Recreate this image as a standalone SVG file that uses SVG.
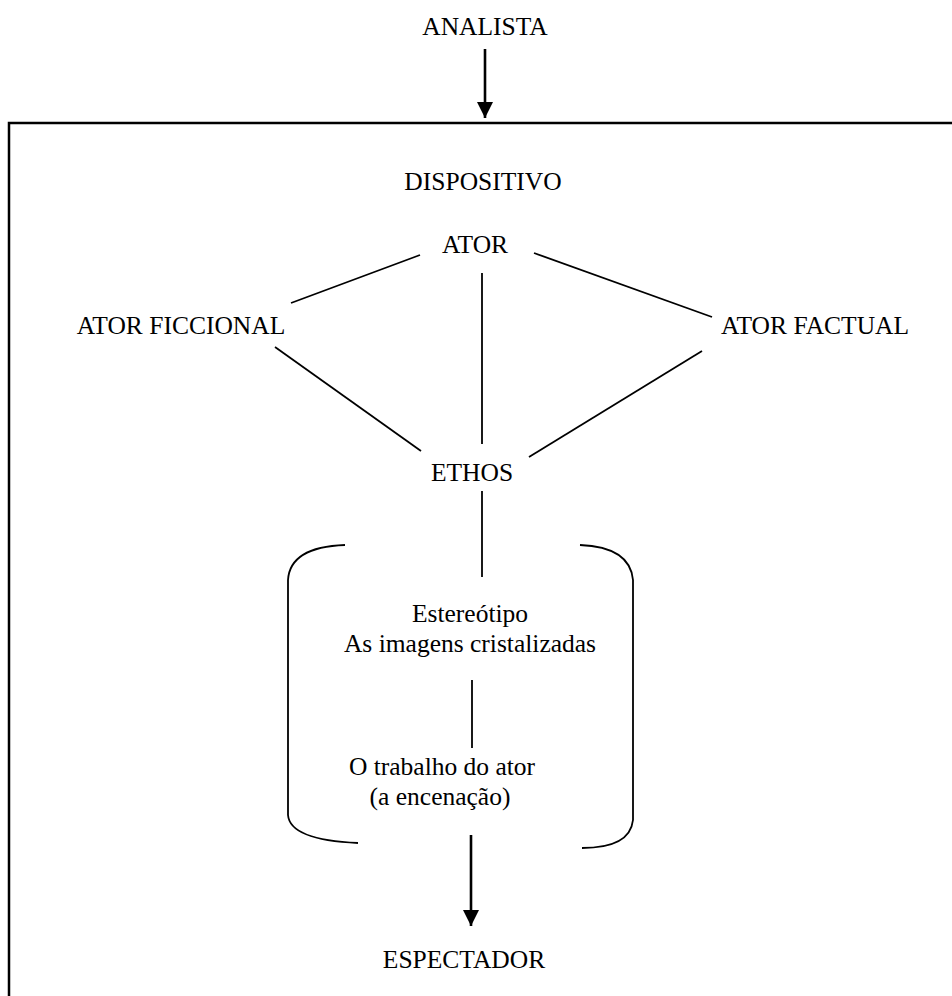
<svg xmlns="http://www.w3.org/2000/svg" width="952" height="996" viewBox="0 0 952 996">
<style>
text{font-family:"Liberation Serif","Times New Roman",serif;font-size:25.5px;fill:#000;text-anchor:middle}
.ln{stroke:#000;stroke-width:1.8;fill:none}
.ar{stroke:#000;stroke-width:2.6;fill:none}
</style>
<defs>
<marker id="ah" markerUnits="userSpaceOnUse" markerWidth="16" markerHeight="16" refX="16" refY="8" orient="auto">
<path d="M0,0 L16,8 L0,16 Z" fill="#000"/>
</marker>
</defs>
<rect width="952" height="996" fill="#fff"/>
<g id="frame">
<path d="M9,996 L9,123 L952,123" stroke="#000" stroke-width="2.5" fill="none"/>
</g>
<g id="analista"><text x="485" y="35">ANALISTA</text></g>
<g id="dispositivo"><text x="483" y="190">DISPOSITIVO</text></g>
<g id="ator"><text x="475" y="253">ATOR</text></g>
<g id="ator-ficcional"><text x="181" y="334">ATOR FICCIONAL</text></g>
<g id="ator-factual"><text x="815" y="334">ATOR FACTUAL</text></g>
<g id="ethos"><text x="472" y="481">ETHOS</text></g>
<g id="estereotipo"><text x="470" y="622">Estereótipo</text><text x="470" y="652">As imagens cristalizadas</text></g>
<g id="trabalho"><text x="442" y="775">O trabalho do ator</text><text x="440" y="805">(a encenação)</text></g>
<g id="espectador"><text x="464" y="968">ESPECTADOR</text></g>
<g id="brackets">
<path class="ln" d="M345,545 Q290,547 288,580 L288,815 Q290,840 358,843"/>
<path class="ln" d="M580,545 Q630,547 633,580 L633,820 Q630,848 582,848"/>
</g>
<g id="connectors">
<line class="ar" x1="485" y1="49" x2="485" y2="118" marker-end="url(#ah)"/>
<line class="ln" x1="420" y1="255" x2="291" y2="303"/>
<line class="ln" x1="534" y1="253" x2="712" y2="317"/>
<line class="ln" x1="482" y1="273" x2="482" y2="444"/>
<line class="ln" x1="275" y1="347" x2="421" y2="451"/>
<line class="ln" x1="529" y1="457" x2="702" y2="351"/>
<line class="ln" x1="482" y1="491" x2="482" y2="577"/>
<line class="ln" x1="472" y1="680" x2="472" y2="748"/>
<line class="ar" x1="471" y1="835" x2="471" y2="926" marker-end="url(#ah)"/>
</g>
</svg>
